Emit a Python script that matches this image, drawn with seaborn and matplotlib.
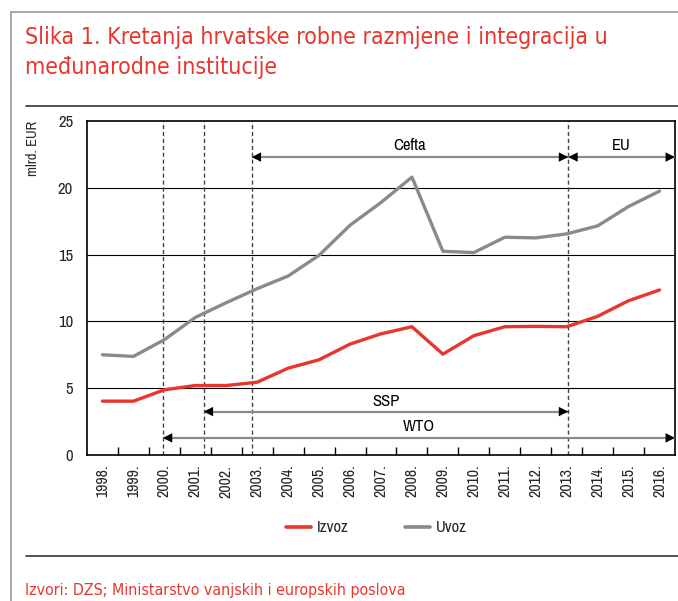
import matplotlib
matplotlib.use("Agg")
import matplotlib.pyplot as plt
from matplotlib.lines import Line2D
import numpy as np
import pandas as pd
import seaborn as sns

# podaci (mlrd. EUR), očitano sa slike
godine = [f"{g}." for g in range(1998, 2017)]
izvoz = [4.03, 4.03, 4.88, 5.2, 5.2, 5.45, 6.5, 7.13, 8.3, 9.07,
         9.6, 7.55, 8.93, 9.6, 9.63, 9.6, 10.38, 11.55, 12.35]
uvoz = [7.5, 7.38, 8.63, 10.3, 11.4, 12.45, 13.4, 14.95, 17.2, 18.9,
        20.8, 15.25, 15.15, 16.3, 16.25, 16.55, 17.15, 18.6, 19.75]

# pristupanja (položaj na osi kategorija)
dogadaji = {"WTO": 1.95, "SSP": 3.27, "Cefta": 4.82, "EU": 15.05}

CRVENA = "#e8362d"
SIVA = "#8a8a8a"

sns.set_theme(style="white")
plt.rcParams["font.family"] = ["Archivo Narrow", "DejaVu Sans"]
plt.rcParams["font.stretch"] = "condensed"
NASLOV_FONT = ["DejaVu Sans"]

df = pd.DataFrame({
    "godina": godine * 2,
    "vrijednost": izvoz + uvoz,
    "serija": ["Izvoz"] * len(godine) + ["Uvoz"] * len(godine),
})

fig = plt.figure(figsize=(6.78, 6.01), dpi=100)
ax = fig.add_axes([87 / 678, 146 / 601, 588 / 678, 334 / 601])

sns.lineplot(data=df, x="godina", y="vrijednost", hue="serija",
             palette={"Izvoz": CRVENA, "Uvoz": SIVA}, linewidth=2.4,
             legend=False, ax=ax, zorder=4)

n = len(godine)
ax.set_xlim(-0.5, n - 0.5)
ax.set_ylim(0, 25)
ax.set_yticks([0, 5, 10, 15, 20, 25])
for y in [5, 10, 15, 20]:
    ax.axhline(y, color="black", lw=0.8, zorder=1)

ax.set_xticks(range(n))
ax.set_xticklabels(godine, rotation=90, fontsize=11.5)
ax.set_xticks(np.arange(0.5, n - 1, 1), minor=True)
ax.tick_params(axis="x", which="major", length=0, pad=7)
ax.tick_params(axis="x", which="minor", direction="in", length=6,
               width=1, color="black", bottom=True)
ax.tick_params(axis="y", length=0, pad=10, labelsize=12)
for s in ax.spines.values():
    s.set_color("black")
    s.set_linewidth(1.2)
ax.set_xlabel("")
ax.set_ylabel("mlrd. EUR", fontsize=10.5, ha="right")
ax.yaxis.set_label_coords(-0.08, 1.0)

# vertikalne isprekidane linije
for x in dogadaji.values():
    ax.axvline(x, color="#444444", lw=1, ls=(0, (3, 2)), zorder=2)


def strelica(x0, x1, y, tekst, ty):
    ax.plot([x0, x1], [y, y], color=SIVA, lw=1.6, zorder=3,
            solid_capstyle="butt")
    for kraj, smjer in [(x0, 1), (x1, -1)]:
        ax.annotate("", xy=(kraj, y), xytext=(kraj + smjer * 0.35, y),
                    arrowprops=dict(arrowstyle="-|>", color="black", lw=0,
                                    mutation_scale=17, shrinkA=0, shrinkB=0),
                    zorder=5)
    ax.text((x0 + x1) / 2, ty, tekst, ha="center", va="center",
            fontsize=12, color="black")


desno = n - 0.5
strelica(dogadaji["Cefta"], dogadaji["EU"], 22.3, "Cefta", 23.2)
strelica(dogadaji["EU"], desno, 22.3, "EU", 23.2)
strelica(dogadaji["SSP"], dogadaji["EU"], 3.25, "SSP", 4.0)
strelica(dogadaji["WTO"], desno, 1.28, "WTO", 2.1)

# legenda
rucke = [Line2D([], [], color=CRVENA, lw=2.6), Line2D([], [], color=SIVA, lw=2.6)]
fig.legend(rucke, ["Izvoz", "Uvoz"], loc="center", ncol=2, frameon=False,
           bbox_to_anchor=(0.555, 1 - 528 / 601), fontsize=12,
           handlelength=1.5, columnspacing=3.4, handletextpad=0.35)

# naslov, okvir i izvor
fig.text(25 / 678, 1 - 26 / 601,
         "Slika 1. Kretanja hrvatske robne razmjene i integracija u\nmeđunarodne institucije",
         ha="left", va="top", color=CRVENA, fontsize=16.6, linespacing=1.4,
         family=NASLOV_FONT)
fig.text(25 / 678, 1 - 590 / 601,
         "Izvori: DZS; Ministarstvo vanjskih i europskih poslova",
         ha="left", va="center", color=CRVENA, fontsize=11.4, family=NASLOV_FONT)

okvir = dict(transform=fig.transFigure, color="#9a9a9a", lw=1.2)
fig.add_artist(Line2D([11 / 678, 1], [1 - 12 / 601] * 2, **okvir))
fig.add_artist(Line2D([11 / 678] * 2, [0, 1 - 12 / 601], **okvir))
crta = dict(transform=fig.transFigure, color="#333333", lw=1.2)
fig.add_artist(Line2D([26 / 678, 1], [1 - 106 / 601] * 2, **crta))
fig.add_artist(Line2D([26 / 678, 1], [1 - 556 / 601] * 2, **crta))

fig.savefig("out.png", dpi=100)
